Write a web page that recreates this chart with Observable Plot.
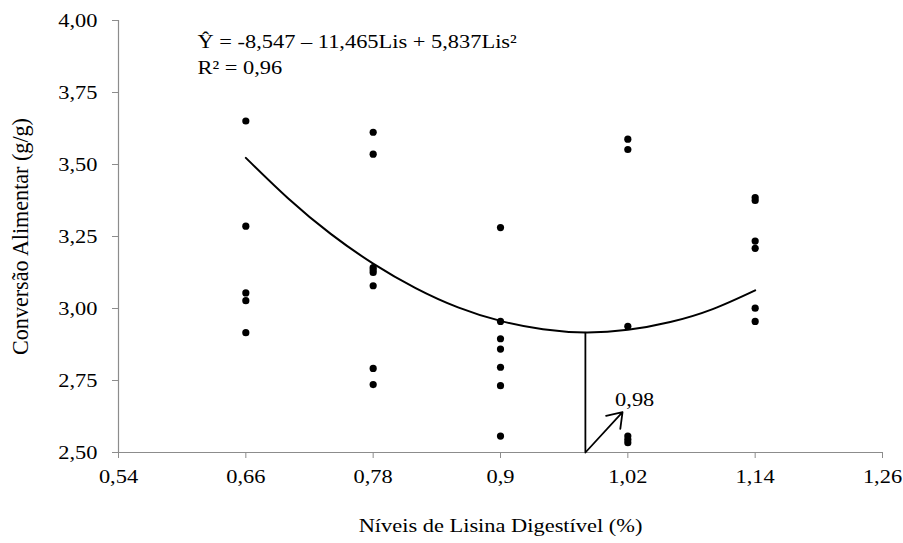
<!DOCTYPE html>
<html>
<head>
<meta charset="utf-8">
<script src="https://cdn.jsdelivr.net/npm/d3@7"></script>
<script src="https://cdn.jsdelivr.net/npm/@observablehq/plot@0.6"></script>
<style>
  html, body { margin: 0; padding: 0; background: #fff; }
</style>
</head>
<body>
<div id="chart"></div>
<script>
// Observed feed conversion by digestible lysine level
const levels = [0.66, 0.78, 0.90, 1.02, 1.14];
const conv066 = [3.651, 3.286, 3.054, 3.027, 2.916];
const conv078 = [3.612, 3.536, 3.142, 3.134, 3.125, 3.079, 2.792, 2.736];
const conv090 = [3.281, 2.955, 2.895, 2.859, 2.796, 2.732, 2.557];
const conv102 = [3.588, 3.552, 2.938, 2.557, 2.545, 2.534];
const conv114 = [3.385, 3.375, 3.234, 3.209, 3.001, 2.955];

// Fitted regression curve
const curveX = [0.66, 0.70, 0.74, 0.78, 0.82, 0.86, 0.90, 0.94, 0.98, 1.02, 1.06, 1.10, 1.14];
const curveY = [3.523, 3.382, 3.259, 3.156, 3.071, 3.004, 2.957, 2.928, 2.917, 2.926, 2.953, 2.998, 3.063];

// Optimum annotation
const optX = 0.98;
const optY = 2.917;
const arrowStart = [0.98, 2.50];
const arrowEnd = [1.015, 2.64];
const optLabel = "0,98";

// Axes
const xTicks = [0.54, 0.66, 0.78, 0.90, 1.02, 1.14, 1.26];
const xTickLabels = ["0,54", "0,66", "0,78", "0,9", "1,02", "1,14", "1,26"];
const yTicks = [2.50, 2.75, 3.00, 3.25, 3.50, 3.75, 4.00];
const yTickLabels = ["2,50", "2,75", "3,00", "3,25", "3,50", "3,75", "4,00"];
const xTitle = "Níveis de Lisina Digestível (%)";
const yTitle = "Conversão Alimentar (g/g)";
const eqLine1 = "Ŷ = -8,547 – 11,465Lis + 5,837Lis²";
const eqLine2 = "R² = 0,96";

const series = [conv066, conv078, conv090, conv102, conv114];
const points = [];
series.forEach((arr, i) => arr.forEach(v => points.push({x: levels[i], y: v})));
const curve = curveX.map((x, i) => ({x, y: curveY[i]}));

const font = "'Liberation Serif', 'Times New Roman', serif";
const gray = "#8c8c8c";

const chart = Plot.plot({
  width: 903,
  height: 543,
  marginLeft: 118,
  marginRight: 21,
  marginTop: 20,
  marginBottom: 91,
  style: {fontFamily: font, fontSize: "19px", color: "black", background: "white"},
  x: {domain: [0.54, 1.26]},
  y: {domain: [2.5, 4.0]},
  marks: [
    Plot.ruleY([2.5], {stroke: gray, strokeWidth: 1.2}),
    Plot.ruleX([0.54], {stroke: gray, strokeWidth: 1.2}),
    Plot.axisX({
      ticks: xTicks,
      tickFormat: d => xTickLabels[xTicks.indexOf(d)],
      tickSize: 6,
      tickPadding: 11,
      stroke: gray,
      fill: "black",
      label: null
    }),
    Plot.axisY({
      ticks: yTicks,
      tickFormat: d => yTickLabels[yTicks.indexOf(d)],
      tickSize: 6,
      tickPadding: 15,
      stroke: gray,
      fill: "black",
      label: null
    }),
    Plot.line(curve, {x: "x", y: "y", curve: "natural", stroke: "black", strokeWidth: 2}),
    Plot.ruleX([optX], {y1: 2.5, y2: optY, stroke: "black", strokeWidth: 1.8}),
    Plot.arrow([{x1: arrowStart[0], y1: arrowStart[1], x2: arrowEnd[0], y2: arrowEnd[1]}],
      {x1: "x1", y1: "y1", x2: "x2", y2: "y2", stroke: "black", strokeWidth: 1.8, headLength: 14, headAngle: 70}),
    Plot.text([optLabel], {x: 1.008, y: 2.66, text: d => d, textAnchor: "start", lineAnchor: "bottom", fill: "black"}),
    Plot.dot(points, {x: "x", y: "y", r: 3.6, fill: "black", stroke: "none"}),
    Plot.text([eqLine1], {frameAnchor: "top-left", dx: 79, dy: 21, text: d => d, textAnchor: "start", lineAnchor: "middle", fill: "black"}),
    Plot.text([eqLine2], {frameAnchor: "top-left", dx: 79, dy: 47, text: d => d, textAnchor: "start", lineAnchor: "middle", fill: "black"}),
    Plot.text([xTitle], {frameAnchor: "bottom", dy: 73, text: d => d, textAnchor: "middle", lineAnchor: "middle", fill: "black"}),
    Plot.text([yTitle], {frameAnchor: "left", dx: -98, rotate: -90, text: d => d, textAnchor: "middle", lineAnchor: "middle", fill: "black"})
  ]
});
document.getElementById("chart").appendChild(chart);

// The reference text is horizontally widened: scale each label about its own
// anchor point (so its start / centre / end stays put).
const widen = 1.18;
chart.querySelectorAll("text").forEach(t => {
  const len = t.getComputedTextLength();
  if (!len) return;
  const ax = (parseFloat(t.getAttribute("x")) || 0);
  const ay = (parseFloat(t.getAttribute("y")) || 0);
  let sx = widen, sy = 1;
  if (t.textContent === yTitle) { sx = 237 / len; sy = widen; }
  const base = t.getAttribute("transform") || "";
  t.setAttribute("transform",
    `${base} translate(${ax},${ay}) scale(${sx.toFixed(3)},${sy.toFixed(3)}) translate(${-ax},${-ay})`.trim());
});
</script>
</body>
</html>
